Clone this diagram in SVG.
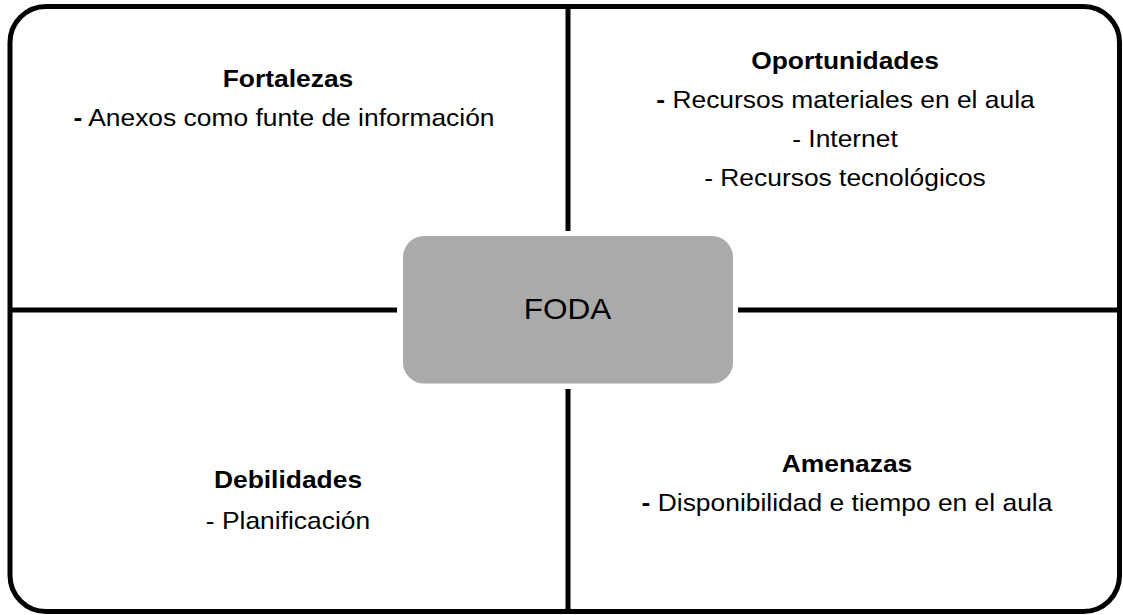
<svg xmlns="http://www.w3.org/2000/svg" width="1123" height="615" viewBox="0 0 1123 615">
<style>
.t{font-family:"Liberation Sans",Arial,sans-serif;font-size:24px;fill:#000;text-anchor:middle}
.b{font-weight:bold}
.ln{stroke:#000;stroke-width:5;fill:none}
</style>
<rect width="1123" height="615" fill="#fff"/>
<g id="frame"><rect x="10" y="6.5" width="1109.5" height="605" rx="36" ry="36" class="ln"/></g>
<g id="connectors">
<line x1="568" y1="6" x2="568" y2="231" class="ln"/>
<line x1="568" y1="389" x2="568" y2="612" class="ln"/>
<line x1="10" y1="310" x2="397" y2="310" class="ln"/>
<line x1="738" y1="310" x2="1119" y2="310" class="ln"/>
</g>
<g id="foda">
<rect x="403" y="236" width="330" height="147.5" rx="21" ry="21" fill="#aaaaaa"/>
<text class="t" transform="translate(567.5,319) scale(1.05,1)" style="font-size:30px">FODA</text>
</g>
<g id="fortalezas">
<text class="t b" transform="translate(288,87) scale(1.1,1)">Fortalezas</text>
<text class="t" transform="translate(284,126) scale(1.1,1)"><tspan class="b">-</tspan> Anexos como funte de información</text>
</g>
<g id="oportunidades">
<text class="t b" transform="translate(845,69) scale(1.1,1)">Oportunidades</text>
<text class="t" transform="translate(845.5,108) scale(1.1,1)"><tspan class="b">-</tspan> Recursos materiales en el aula</text>
<text class="t" transform="translate(845,147) scale(1.1,1)">- Internet</text>
<text class="t" transform="translate(845,186) scale(1.1,1)">- Recursos tecnológicos</text>
</g>
<g id="debilidades">
<text class="t b" transform="translate(288,488) scale(1.1,1)">Debilidades</text>
<text class="t" transform="translate(288,529) scale(1.1,1)">- Planificación</text>
</g>
<g id="amenazas">
<text class="t b" transform="translate(847,472) scale(1.1,1)">Amenazas</text>
<text class="t" transform="translate(847,511) scale(1.1,1)"><tspan class="b">-</tspan> Disponibilidad e tiempo en el aula</text>
</g>
</svg>
